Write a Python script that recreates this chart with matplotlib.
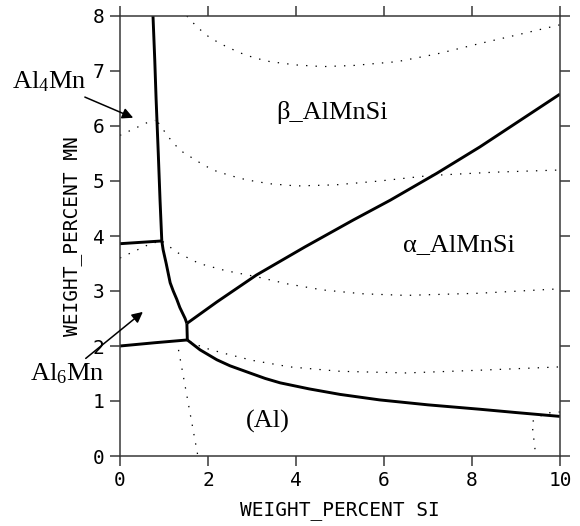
import matplotlib.pyplot as plt

plt.rcParams["mathtext.fontset"] = "custom"
plt.rcParams["mathtext.rm"] = "Liberation Serif"
plt.rcParams["mathtext.it"] = "Liberation Serif:italic"

# solid phase boundaries (wt% Si, wt% Mn)
al4mn_beta_x = [0.75, 0.79, 0.82, 0.87, 0.91, 0.95]
al4mn_beta_y = [8.0, 7.2, 6.5, 5.5, 4.65, 3.91]
al4mn_al6mn_x = [0.0, 0.95]
al4mn_al6mn_y = [3.86, 3.91]
al6mn_beta_x = [0.95, 0.98, 1.05, 1.14, 1.21, 1.29, 1.36, 1.42, 1.48, 1.52]
al6mn_beta_y = [3.91, 3.75, 3.5, 3.15, 3.0, 2.85, 2.7, 2.6, 2.5, 2.41]
short_x = [1.52, 1.53]
short_y = [2.41, 2.11]
al6mn_al_x = [0.0, 0.8, 1.53]
al6mn_al_y = [2.0, 2.06, 2.11]
beta_alpha_x = [1.52, 2.2, 3.1, 4.2, 5.3, 6.14, 7.2, 8.18, 10.0]
beta_alpha_y = [2.41, 2.8, 3.29, 3.8, 4.29, 4.65, 5.14, 5.62, 6.58]
alpha_al_x = [1.53, 1.82, 2.2, 2.5, 2.95, 3.3, 3.64, 4.3, 5.0, 5.9, 7.0, 8.18, 9.0, 10.0]
alpha_al_y = [2.11, 1.93, 1.75, 1.64, 1.51, 1.41, 1.33, 1.22, 1.12, 1.02, 0.93, 0.85, 0.79, 0.72]

# dotted isotherms
iso_top_x = [1.52, 1.75, 2.05, 2.4, 2.73, 3.05, 3.41, 4.0, 4.61, 5.3, 6.3, 7.2, 8.18, 9.1, 10.0]
iso_top_y = [8.0, 7.8, 7.6, 7.45, 7.33, 7.24, 7.17, 7.11, 7.08, 7.1, 7.17, 7.31, 7.5, 7.67, 7.84]
iso_al4mn_x = [0.0, 0.64, 0.8]
iso_al4mn_y = [5.83, 6.07, 6.1]
iso_b1_x = [0.87, 1.1, 1.36, 1.82, 2.11, 2.5, 2.88, 3.4, 4.02, 4.9, 5.9, 7.05, 8.5, 10.0]
iso_b1_y = [6.06, 5.8, 5.56, 5.33, 5.2, 5.1, 5.02, 4.95, 4.91, 4.93, 5.0, 5.1, 5.16, 5.2]
iso_al6mn_x = [0.0, 0.72, 0.93]
iso_al6mn_y = [3.6, 3.87, 3.9]
iso_b2_x = [0.97, 1.3, 1.8, 2.4, 3.1, 3.8, 4.6, 5.5, 6.5, 8.18, 10.0]
iso_b2_y = [3.9, 3.7, 3.5, 3.37, 3.26, 3.13, 3.02, 2.95, 2.92, 2.96, 3.04]
iso_a1_x = [1.59, 1.9, 2.35, 3.0, 3.86, 5.0, 6.5, 8.18, 10.0]
iso_a1_y = [2.08, 1.97, 1.87, 1.74, 1.62, 1.54, 1.51, 1.56, 1.62]
iso_al1_x = [1.33, 1.77]
iso_al1_y = [1.93, 0.0]
iso_al2_x = [10.0, 9.66, 9.36, 9.45]
iso_al2_y = [0.8, 0.78, 0.62, 0.0]

solids = [
    (al4mn_beta_x, al4mn_beta_y), (al4mn_al6mn_x, al4mn_al6mn_y),
    (al6mn_beta_x, al6mn_beta_y), (short_x, short_y),
    (al6mn_al_x, al6mn_al_y), (beta_alpha_x, beta_alpha_y),
    (alpha_al_x, alpha_al_y),
]
dotted = [
    (iso_top_x, iso_top_y), (iso_al4mn_x, iso_al4mn_y), (iso_b1_x, iso_b1_y),
    (iso_al6mn_x, iso_al6mn_y), (iso_b2_x, iso_b2_y), (iso_a1_x, iso_a1_y),
    (iso_al1_x, iso_al1_y), (iso_al2_x, iso_al2_y),
]

fig = plt.figure(figsize=(5.8, 5.26), dpi=100)
ax = fig.add_axes([120 / 580, 70 / 526, 440 / 580, 440 / 526])

for xs, ys in dotted:
    ax.plot(xs, ys, color="black", lw=0.9, linestyle=(0, (1.1, 6.5)))
for xs, ys in solids:
    ax.plot(xs, ys, color="black", lw=2.1, solid_capstyle="butt",
            solid_joinstyle="round")

ax.set_xlim(0, 10)
ax.set_ylim(0, 8)
ax.set_xticks([0, 2, 4, 6, 8, 10])
ax.set_yticks(range(9))
ax.set_xticklabels(["0", "2", "4", "6", "8", "10"])
ax.set_yticklabels([str(v) for v in range(9)])

edge = "#383838"
for spine in ax.spines.values():
    spine.set_color(edge)
    spine.set_linewidth(1.1)
ax.tick_params(direction="out", length=7, width=1.1, color=edge,
               top=True, right=True, labelsize=14, pad=4)
for lab in ax.get_xticklabels() + ax.get_yticklabels():
    lab.set_family("DejaVu Sans Mono")

mono = dict(family="DejaVu Sans Mono", fontsize=14)
ax.set_xlabel("WEIGHT_PERCENT SI", labelpad=8, **mono)
ax.set_ylabel("WEIGHT_PERCENT MN", labelpad=8, **mono)

serif = dict(family="Liberation Serif", fontsize=19, ha="center", va="center")
ax.text(4.82, 6.24, "β_AlMnSi", **serif)
ax.text(7.7, 3.84, "α_AlMnSi", **serif)
ax.text(3.37, 0.62, "(Al)", **serif)

arrow = dict(arrowstyle="-|>", color="black", lw=1.1, mutation_scale=16,
             shrinkA=0, shrinkB=0)
ax.annotate("Al$_4$Mn", xy=(0.3, 6.15), xytext=(-1.6, 6.8),
            arrowprops=arrow, annotation_clip=False,
            ha="center", va="center", family="Liberation Serif", fontsize=19)
ax.annotate("Al$_6$Mn", xy=(0.52, 2.62), xytext=(-1.2, 1.5),
            arrowprops=arrow, annotation_clip=False,
            ha="center", va="center", family="Liberation Serif", fontsize=19)

fig.savefig("out.png", dpi=100)
